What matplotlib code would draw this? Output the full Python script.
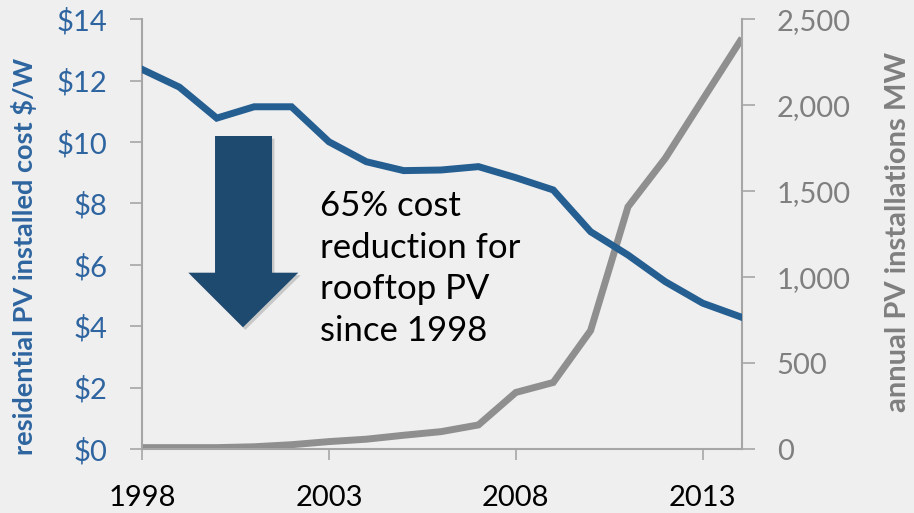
import matplotlib
matplotlib.use("Agg")
import matplotlib.pyplot as plt
from matplotlib.patches import Polygon
from matplotlib.ticker import FuncFormatter, FixedLocator

plt.rcParams['font.family'] = ['Lato', 'DejaVu Sans']

years = list(range(1998, 2015))
cost = [12.37, 11.79, 10.78, 11.15, 11.15, 10.01, 9.36, 9.07, 9.09, 9.20,
        8.84, 8.44, 7.08, 6.32, 5.45, 4.75, 4.31]
installs = [8, 8, 8, 13, 25, 43, 57, 80, 101, 140,
            329, 387, 689, 1409, 1692, 2033, 2373]
xticks = [1998, 2003, 2008, 2013]
cost_ticks = [0, 2, 4, 6, 8, 10, 12, 14]
mw_ticks = [0, 500, 1000, 1500, 2000, 2500]
annotation = "65% cost\nreduction for\nrooftop PV\nsince 1998"
left_label = "residential PV installed cost $/W"
right_label = "annual PV installations MW"

BG = '#efefef'
BLUE = '#255e91'
BLUE_TXT = '#2e65a0'
GRAY = '#8f8f8f'
GRAY_TXT = '#7f7f7f'
SPINE = '#a6a6a6'

fig = plt.figure(figsize=(9.14, 5.13), dpi=100, facecolor=BG)
ax = fig.add_axes([142/914, (513-449)/513, 600/914, 429.7/513])
ax.set_facecolor('none')
ax2 = ax.twinx()
ax2.set_facecolor('none')

ax2.plot(years, installs, color=GRAY, lw=5, solid_joinstyle='miter', zorder=2)
ax.plot(years, cost, color=BLUE, lw=5, solid_joinstyle='miter', zorder=3)
ax.set_zorder(ax2.get_zorder() + 1)

ax.set_xlim(1998, 2014.05)
ax.set_ylim(0, 14)
ax2.set_ylim(0, 2500)

ax.xaxis.set_major_locator(FixedLocator(xticks))
ax.yaxis.set_major_locator(FixedLocator(cost_ticks))
ax2.yaxis.set_major_locator(FixedLocator(mw_ticks))
ax.yaxis.set_major_formatter(FuncFormatter(lambda v, p: f"${v:.0f}"))
ax2.yaxis.set_major_formatter(FuncFormatter(lambda v, p: f"{v:,.0f}"))

for a in (ax, ax2):
    for s in a.spines.values():
        s.set_visible(False)
for side in ('left', 'bottom'):
    ax.spines[side].set_visible(True)
    ax.spines[side].set_color(SPINE)
    ax.spines[side].set_linewidth(1.5)
ax2.spines['right'].set_visible(True)
ax2.spines['right'].set_color(SPINE)
ax2.spines['right'].set_linewidth(1.5)

ax.tick_params(axis='x', direction='out', length=8, width=1.2, color=SPINE,
               labelsize=21, labelcolor='black', pad=18)
ax.tick_params(axis='y', direction='out', length=9, width=1.2, color=SPINE,
               labelsize=21, labelcolor=BLUE_TXT, pad=16)
ax2.tick_params(axis='y', direction='out', length=9, width=1.2, color=SPINE,
                labelsize=21, labelcolor=GRAY_TXT, pad=16)

fig.text(24/914, 0.50, left_label, color=BLUE_TXT, fontsize=19.5,
         fontweight='bold', rotation=90, ha='center', va='center')
fig.text(898/914, 0.548, right_label, color=GRAY_TXT, fontsize=21,
         fontweight='bold', rotation=90, ha='center', va='center')

# down arrow (annotation shape, axes fraction coords)
arrow_pts = [(0.1217, 0.7284), (0.2167, 0.7284), (0.2167, 0.4103),
             (0.2605, 0.4103), (0.1683, 0.2832), (0.0772, 0.4103),
             (0.1217, 0.4103)]
shadow = Polygon([(x + 0.004, y - 0.006) for x, y in arrow_pts], closed=True,
                 transform=ax.transAxes, facecolor='#c8c8c8', edgecolor='none',
                 zorder=1)
ax.add_patch(shadow)
ax.add_patch(Polygon(arrow_pts, closed=True, transform=ax.transAxes,
                     facecolor='#1f4a70', edgecolor='none', zorder=2))

ax.text(0.2967, 0.603, annotation, transform=ax.transAxes, fontsize=25,
        color='black', va='top', ha='left', linespacing=1.37)

fig.savefig('out.png', dpi=100, facecolor=BG)
